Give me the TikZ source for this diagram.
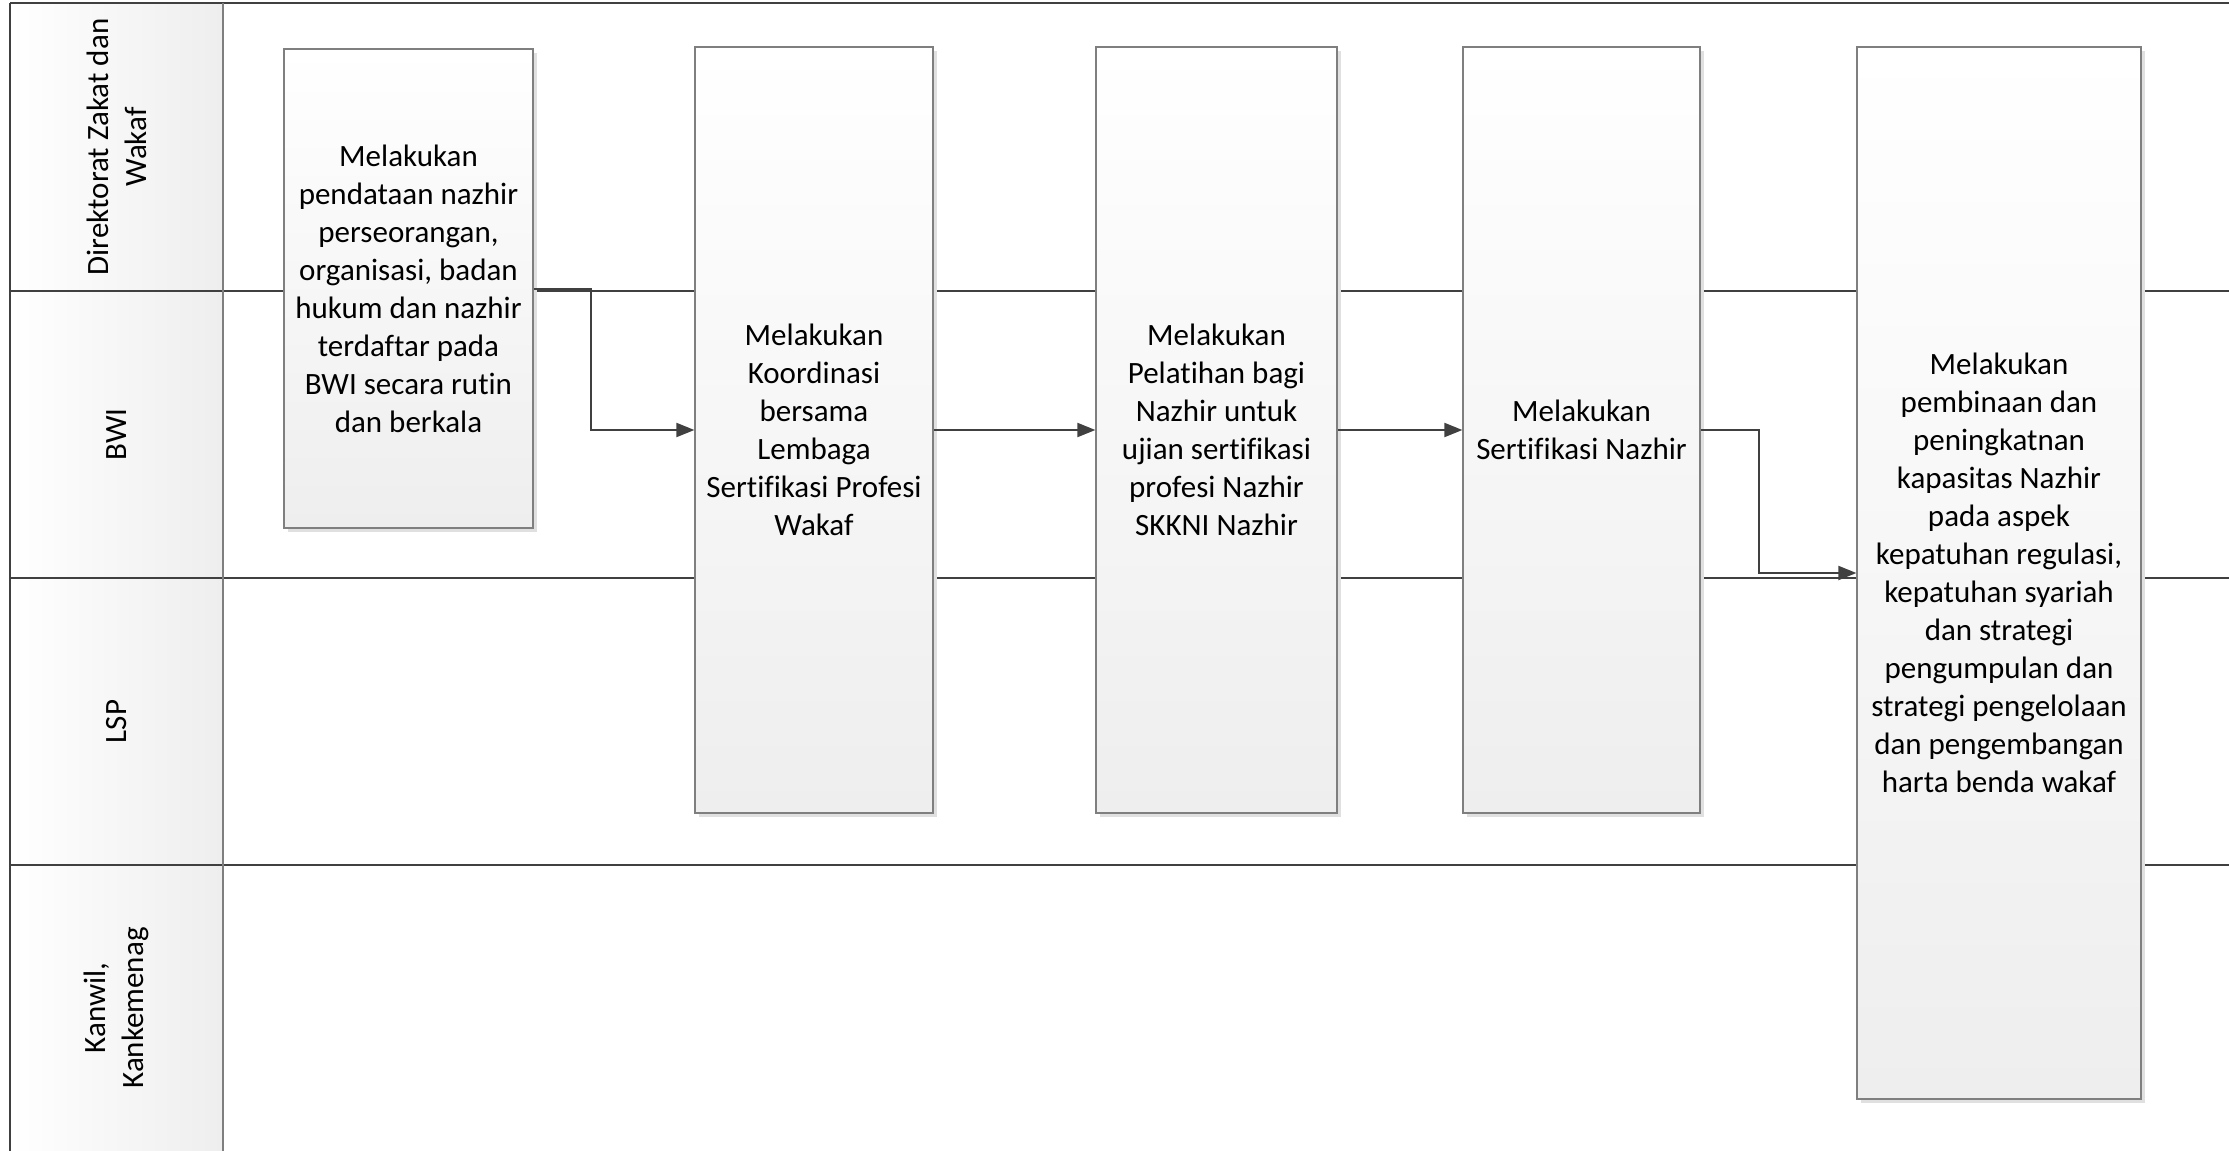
\documentclass[tikz,border=0pt]{standalone}
\usepackage{fontspec}
\setmainfont{Carlito}[Ligatures=NoCommon]
\usepackage{tikz}
\usetikzlibrary{arrows.meta,shadows}

\definecolor{linegray}{HTML}{404040}
\definecolor{edgegray}{HTML}{7F7F7F}
\definecolor{fillgray}{HTML}{EEEEEE}

\begin{document}
\begin{tikzpicture}[
  x=0.5pt, y=-0.5pt,
  font=\fontsize{15.5}{19}\selectfont,
  laneline/.style={draw=linegray, line width=1pt},
  lanehead/.style={left color=white, right color=fillgray},
  lanelabel/.style={rotate=90, align=center, inner sep=0pt},
  task/.style={draw=edgegray, line width=0.6pt, top color=white, bottom color=fillgray,
    align=center, inner sep=3pt,
    drop shadow={shadow xshift=2pt, shadow yshift=-2pt, fill=black!12, opacity=1}},
  flow/.style={draw=linegray, line width=1pt, -{Triangle[length=9pt,width=7pt]}}
]
\useasboundingbox (0,0) rectangle (2229,1151);

% lane headers
\shade[lanehead] (10,3) rectangle (223,1151);
\foreach \y in {3,291,578,865}
  \draw[laneline] (10,\y) -- (2229,\y);
\draw[laneline] (10,3) -- (10,1151);
\draw[draw=edgegray, line width=0.8pt] (223,3) -- (223,1151);

\node[lanelabel] (hdir) at (116.5,147) {Direktorat Zakat dan\\Wakaf};
\node[lanelabel] (hbwi) at (116.5,434.5) {BWI};
\node[lanelabel] (hlsp) at (116.5,721.5) {LSP};
\node[lanelabel] (hkanwil) at (116.5,1008) {Kanwil,\\Kankemenag};

% tasks
\node[task, minimum width=124.5pt, minimum height=239.5pt] (pendataan) at (408.5,288.5)
  {Melakukan\\pendataan nazhir\\perseorangan,\\organisasi, badan\\hukum dan nazhir\\terdaftar pada\\BWI secara rutin\\dan berkala};
\node[task, minimum width=119pt, minimum height=383pt] (koordinasi) at (814,430)
  {Melakukan\\Koordinasi\\bersama\\Lembaga\\Sertifikasi Profesi\\Wakaf};
\node[task, minimum width=120.5pt, minimum height=383pt] (pelatihan) at (1216.5,430)
  {Melakukan\\Pelatihan bagi\\Nazhir untuk\\ujian sertifikasi\\profesi Nazhir\\SKKNI Nazhir};
\node[task, minimum width=118.5pt, minimum height=383pt] (sertifikasi) at (1581.5,430)
  {Melakukan\\Sertifikasi Nazhir};
\node[task, minimum width=142pt, minimum height=526pt] (pembinaan) at (1999,573)
  {Melakukan\\pembinaan dan\\peningkatnan\\kapasitas Nazhir\\pada aspek\\kepatuhan regulasi,\\kepatuhan syariah\\dan strategi\\pengumpulan dan\\strategi pengelolaan\\dan pengembangan\\harta benda wakaf};

% connectors
\draw[flow] (pendataan.east) -- ++(57,0) |- (koordinasi.west);
\draw[flow] (koordinasi) -- (pelatihan);
\draw[flow] (pelatihan) -- (sertifikasi);
\draw[flow] (sertifikasi.east) -- ++(58,0) |- (pembinaan.west);
\end{tikzpicture}
\end{document}
